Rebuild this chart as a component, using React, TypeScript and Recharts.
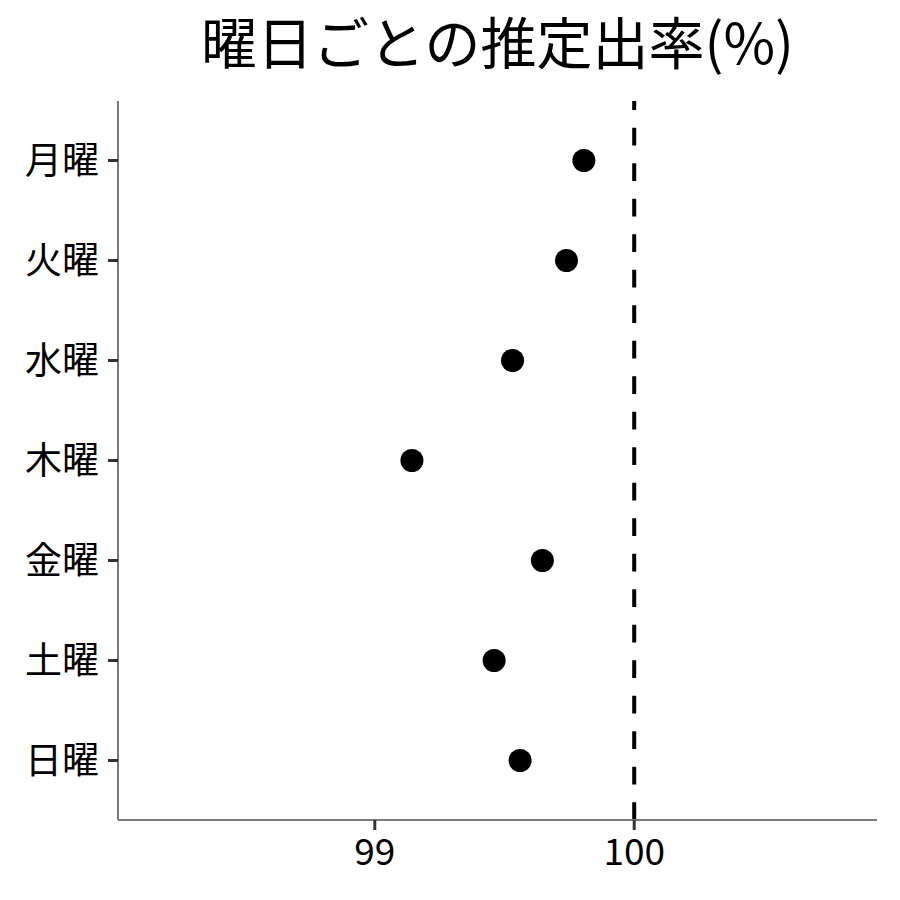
import React from "react";
import { ScatterChart, Scatter, XAxis, YAxis, ReferenceLine } from "recharts";

const days = ["月曜", "火曜", "水曜", "木曜", "金曜", "土曜", "日曜"];
const rates = [99.806, 99.739, 99.531, 99.143, 99.646, 99.46, 99.56];
const xTicks = [99, 100];
const dayIndex = [0, 1, 2, 3, 4, 5, 6];

const data = days.map((d, i) => ({ day: d, idx: dayIndex[i], rate: rates[i] }));

const FONT = "'Noto Sans CJK JP', 'Noto Sans', sans-serif";

const Dot = (props: any) => {
  const { cx, cy } = props;
  if (cx == null || cy == null) return null;
  return <circle cx={cx} cy={cy} r={11.5} fill="#000" />;
};

export default function App() {
  return (
    <div style={{ position: "relative", width: 900, height: 880, fontFamily: FONT }}>
      <div
        style={{
          position: "absolute",
          left: 110,
          width: 759,
          top: 2,
          textAlign: "center",
          fontSize: 56,
          lineHeight: "60px",
          color: "#000",
          fontFamily: FONT,
        }}
      >
        曜日ごとの推定出率(%)
      </div>
      <ScatterChart
        width={900}
        height={880}
        margin={{ top: 93, right: 31, left: 0, bottom: 8 }}
      >
        <XAxis
          type="number"
          dataKey="rate"
          domain={[98.01, 100.936]}
          ticks={xTicks}
          allowDataOverflow
          height={60}
          tickSize={10}
          tickMargin={9}
          axisLine={{ stroke: "#7a7a7a", strokeWidth: 2 }}
          tickLine={{ stroke: "#333", strokeWidth: 3 }}
          tick={{ fill: "#000", fontSize: 37, fontFamily: FONT }}
        />
        <YAxis
          type="number"
          dataKey="idx"
          domain={[-0.595, 6.595]}
          reversed
          ticks={dayIndex}
          tickFormatter={(v: number) => days[v]}
          allowDataOverflow
          width={110}
          tickSize={10}
          tickMargin={9}
          axisLine={{ stroke: "#7a7a7a", strokeWidth: 2 }}
          tickLine={{ stroke: "#333", strokeWidth: 3 }}
          tick={{ fill: "#000", fontSize: 37, fontFamily: FONT }}
        />
        <ReferenceLine
          x={100}
          stroke="#000"
          strokeWidth={4}
          strokeDasharray="17.75 17.75"
        />
        <Scatter data={data} shape={Dot} isAnimationActive={false} />
      </ScatterChart>
    </div>
  );
}
